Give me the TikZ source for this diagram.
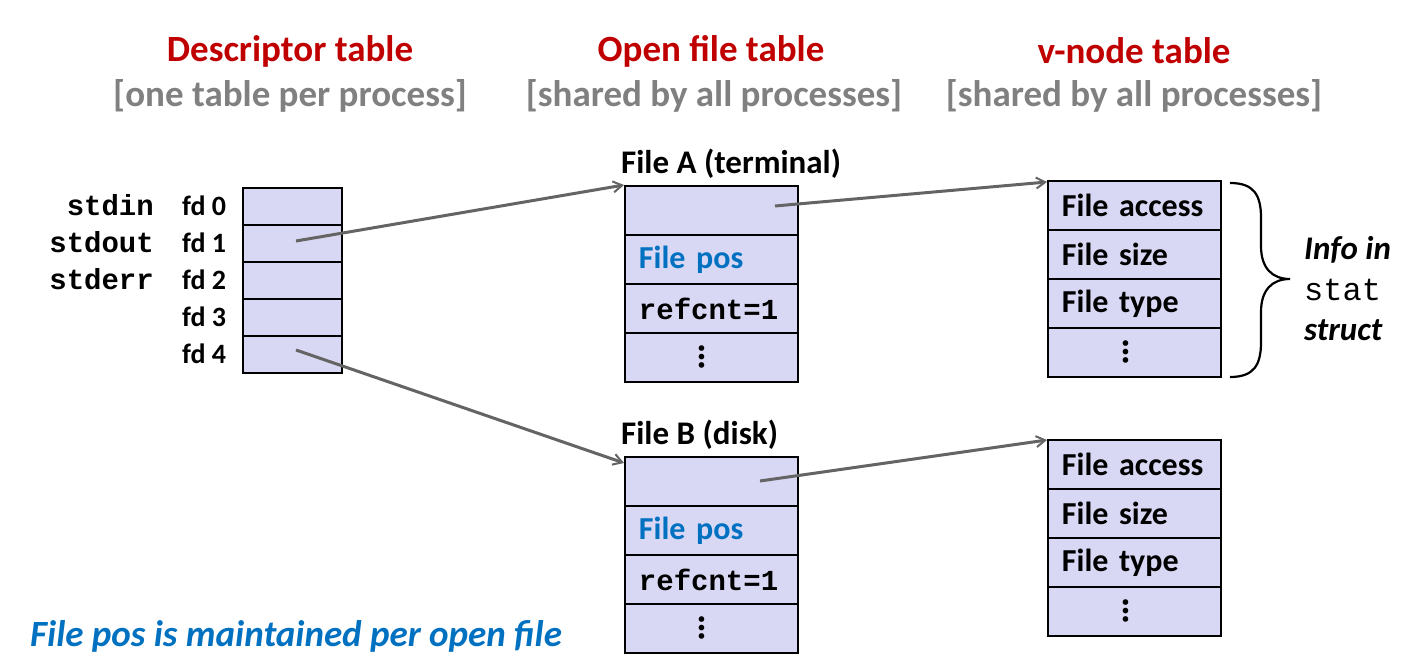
\documentclass[tikz,border=0pt]{standalone}
\usepackage{graphicx}
\usepackage{fontspec}
\setmainfont{Carlito}
\setmonofont{Liberation Mono}
\usetikzlibrary{arrows.meta}
\definecolor{cellfill}{RGB}{216,216,244}
\definecolor{hdrred}{RGB}{192,0,0}
\definecolor{hdrgray}{RGB}{128,128,128}
\definecolor{posblue}{RGB}{0,112,192}
\definecolor{arrgray}{RGB}{100,100,100}
\newcommand{\fsz}[1]{\fontsize{#1}{#1}\selectfont}
\newcommand{\vdotsbig}{\kern-18pt\rotatebox{90}{\fsz{38}\bfseries …}}
\tikzset{
  cellbase/.style={draw=black, line width=1.9pt, fill=cellfill, inner ysep=0pt, anchor=north west},
  dcell/.style={cellbase, minimum width=99pt, minimum height=37pt, inner xsep=0pt},
  ocell/.style={cellbase, minimum width=173pt, minimum height=49pt, text width=145pt, align=left, inner xsep=14pt, font=\fsz{32}\bfseries},
  dotcell/.style={ocell, align=center},
  hdr/.style={font=\fsz{37}\bfseries, text=hdrred, inner sep=0pt},
  sub/.style={font=\fsz{37}\bfseries, text=hdrgray, inner sep=0pt},
  lbl/.style={font=\fsz{33}\bfseries, inner sep=0pt, anchor=west},
  fdlbl/.style={font=\fsz{28}\bfseries, inner sep=0pt, anchor=west},
  monolbl/.style={font=\fsz{29}\ttfamily\bfseries, inner sep=0pt, anchor=east},
  monocell/.style={ocell, font=\fsz{29}\ttfamily\bfseries},
  conn/.style={draw=arrgray, line width=3pt, -{Straight Barb[length=9pt,width=11pt,line width=2pt]}},
  brace/.style={draw=black, line width=2.2pt},
  info/.style={font=\fsz{33}\bfseries\itshape, anchor=west, inner sep=0pt},
}
\begin{document}
\begin{tikzpicture}[x=1pt,y=-1pt]
\useasboundingbox (0,0) rectangle (1425,668);

% headers
\node[hdr] (h1) at (290,51) {Descriptor table};
\node[sub] (s1) at (290,96) {[one table per process]};
\node[hdr] (h2) at (711,51) {Open file table};
\node[sub] (s2) at (714,96) {[shared by all processes]};
\node[hdr] (h3) at (1134,51) {v-node table};
\node[sub] (s3) at (1134,96) {[shared by all processes]};

% descriptor table
\node[dcell] (d0) at (242,187) {};
\node[dcell] (d1) at (242,224) {};
\node[dcell] (d2) at (242,261) {};
\node[dcell] (d3) at (242,298) {};
\node[dcell] (d4) at (242,335) {};
\node[fdlbl] (f0) at (182,206) {fd 0};
\node[fdlbl] (f1) at (182,243) {fd 1};
\node[fdlbl] (f2) at (182,280) {fd 2};
\node[fdlbl] (f3) at (182,317) {fd 3};
\node[fdlbl] (f4) at (182,354) {fd 4};
\node[monolbl] (m0) at (154,205) {stdin};
\node[monolbl] (m1) at (154,242) {stdout};
\node[monolbl] (m2) at (154,279) {stderr};

% open file table A
\node[lbl] (la) at (621,164) {File A (terminal)};
\node[ocell] (fa1) at (624,185) {};
\node[ocell, text=posblue] (fa2) at (624,234) {File pos};
\node[monocell] (fa3) at (624,283) {refcnt=1};
\node[dotcell] (fa4) at (624,332) {\vdotsbig};

% open file table B
\node[lbl] (lb) at (621,435) {File B (disk)};
\node[ocell] (fb1) at (624,456) {};
\node[ocell, text=posblue] (fb2) at (624,505) {File pos};
\node[monocell] (fb3) at (624,554) {refcnt=1};
\node[dotcell] (fb4) at (624,603) {\vdotsbig};

% v-node A
\node[ocell] (va1) at (1047,180) {File access};
\node[ocell] (va2) at (1047,229) {File size};
\node[ocell] (va3) at (1047,278) {File type};
\node[dotcell] (va4) at (1047,327) {\vdotsbig};

% v-node B
\node[ocell] (vb1) at (1047,439) {File access};
\node[ocell] (vb2) at (1047,488) {File size};
\node[ocell] (vb3) at (1047,537) {File type};
\node[dotcell] (vb4) at (1047,586) {\vdotsbig};

% brace and note
\draw[brace] (1230,183) .. controls (1254,183) and (1261,195) .. (1261,218) -- (1261,246)
  .. controls (1261,268) and (1272,279) .. (1290,279)
  .. controls (1272,279) and (1261,290) .. (1261,312) -- (1261,342)
  .. controls (1261,365) and (1254,377) .. (1230,377);
\node[info] (i1) at (1304,250) {Info in};
\node[font=\fsz{32}\ttfamily, anchor=west, inner sep=0pt] (i2) at (1304,290) {stat};
\node[info] (i3) at (1304,330) {struct};

% bottom note
\node[font=\fsz{37}\bfseries\itshape, text=posblue, anchor=west, inner sep=0pt] (note) at (30,636) {File pos is maintained per open file};

% connectors
\coordinate (p1) at (296,241);
\coordinate (p4) at (296,350);
\coordinate (pa) at (775,206);
\coordinate (pb) at (760,481);
\draw[conn] (p1) -- (fa1.north west);
\draw[conn] (p4) -- ([yshift=-7pt]fb1.north west);
\draw[conn] (pa) -- ([yshift=-2pt]va1.north west);
\draw[conn] (pb) -- ([yshift=-1pt]vb1.north west);
\end{tikzpicture}
\end{document}
